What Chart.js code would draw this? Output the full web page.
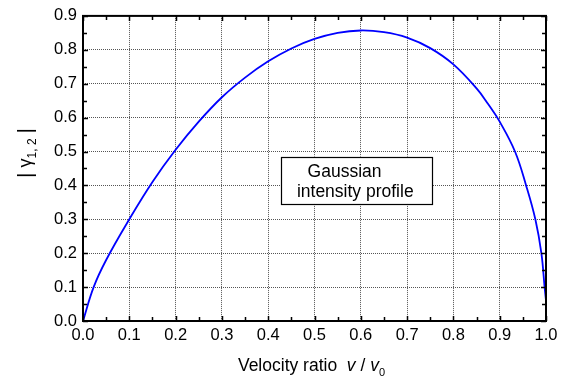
<!DOCTYPE html>
<html>
<head>
<meta charset="utf-8">
<script src="https://cdn.jsdelivr.net/npm/chart.js@4.4.1/dist/chart.umd.min.js"></script>
<style>
  html, body { margin: 0; padding: 0; background: #fff; }
  canvas { display: block; }
</style>
</head>
<body>
<canvas id="chart" width="570" height="383"></canvas>
<script>
// Curve: velocity ratio v/v0 -> |gamma_1,2|
const velocityRatio = [0, 0.023, 0.05, 0.1, 0.15, 0.2, 0.25, 0.3, 0.35, 0.4, 0.45, 0.5, 0.55, 0.6,
    0.65, 0.7, 0.75, 0.8, 0.85, 0.875, 0.9, 0.933, 0.957, 0.977, 0.99, 0.997, 1.0];
const coherence = [0, 0.1, 0.18, 0.30, 0.41, 0.505, 0.588, 0.66, 0.718, 0.766, 0.804, 0.832, 0.85, 0.857,
    0.852, 0.836, 0.805, 0.757, 0.686, 0.640, 0.588, 0.5, 0.4, 0.3, 0.2, 0.1, 0.06];

// Axis ticks
const xTicks = [0, 0.1, 0.2, 0.3, 0.4, 0.5, 0.6, 0.7, 0.8, 0.9, 1.0];
const yTicks = [0, 0.1, 0.2, 0.3, 0.4, 0.5, 0.6, 0.7, 0.8, 0.9];

// Label box text
const noteLines = ['Gaussian', 'intensity profile'];

const FONT = '"Liberation Sans", Arial, sans-serif';

// midpoints between major ticks
function minorOf(ticks) {
    const out = [];
    for (let i = 0; i < ticks.length - 1; i++) out.push((ticks[i] + ticks[i + 1]) / 2);
    return out;
}

// Frame with inward ticks on all four sides
const framePlugin = {
    id: 'frame',
    afterDraw(chart) {
        const { ctx, chartArea: a, scales: { x, y } } = chart;
        ctx.save();
        ctx.strokeStyle = '#000';
        ctx.lineWidth = 1.5;
        ctx.beginPath();
        const xs = xTicks.map(v => [v, 5]).concat(minorOf(xTicks).map(v => [v, 4]));
        xs.forEach(([v, len]) => {
            const px = Math.round(x.getPixelForValue(v)) + 0.5;
            ctx.moveTo(px, a.bottom); ctx.lineTo(px, a.bottom - len);
            ctx.moveTo(px, a.top); ctx.lineTo(px, a.top + len);
        });
        const ys = yTicks.map(v => [v, 5]).concat(minorOf(yTicks).map(v => [v, 4]));
        ys.forEach(([v, len]) => {
            const py = Math.round(y.getPixelForValue(v)) + 0.5;
            ctx.moveTo(a.left, py); ctx.lineTo(a.left + len, py);
            ctx.moveTo(a.right, py); ctx.lineTo(a.right - len, py);
        });
        ctx.stroke();
        ctx.lineWidth = 2;
        ctx.strokeRect(a.left, a.top, a.right - a.left, a.bottom - a.top);
        ctx.restore();
    }
};

// draws a list of [text, font, dy] pieces one after another
function drawPieces(ctx, pieces, startX, baseY) {
    let cx = startX;
    pieces.forEach(([txt, font, dy]) => {
        ctx.font = font;
        ctx.fillText(txt, cx, baseY + dy);
        cx += ctx.measureText(txt).width;
    });
}
function piecesWidth(ctx, pieces) {
    return pieces.reduce((w, [txt, font]) => { ctx.font = font; return w + ctx.measureText(txt).width; }, 0);
}

// Axis titles with italic / subscript parts
const titlePlugin = {
    id: 'titles',
    afterDraw(chart) {
        const { ctx, chartArea: a } = chart;
        ctx.save();
        ctx.fillStyle = '#000';
        ctx.textBaseline = 'alphabetic';
        ctx.textAlign = 'left';

        const xTitle = [
            ['Velocity ratio  ', '17.5px ' + FONT, 0],
            ['v', 'italic 17.5px ' + FONT, 0],
            [' / ', '17.5px ' + FONT, 0],
            ['v', 'italic 17.5px ' + FONT, 0],
            ['0', '11px ' + FONT, 5]
        ];
        const cx = (a.left + a.right) / 2 - 3;
        drawPieces(ctx, xTitle, cx - piecesWidth(ctx, xTitle) / 2, 371);

        const yTitle = [
            ['|', '21px ' + FONT, 1],
            [' \u03b3', '18px ' + FONT, 0],
            ['1, 2', '12px ' + FONT, 5],
            [' ', '17.5px ' + FONT, 0],
            ['|', '21px ' + FONT, 1]
        ];
        ctx.translate(31, 153);
        ctx.rotate(-Math.PI / 2);
        drawPieces(ctx, yTitle, -piecesWidth(ctx, yTitle) / 2, 0);
        ctx.restore();
    }
};

// Boxed note placed in data coordinates
const notePlugin = {
    id: 'note',
    afterDatasetsDraw(chart) {
        const { ctx, scales: { x, y } } = chart;
        const l = x.getPixelForValue(0.428), r = x.getPixelForValue(0.754);
        const t = y.getPixelForValue(0.485), b = y.getPixelForValue(0.346);
        ctx.save();
        ctx.fillStyle = '#fff';
        ctx.fillRect(l, t, r - l, b - t);
        ctx.strokeStyle = '#000';
        ctx.lineWidth = 1.2;
        ctx.strokeRect(Math.round(l) + 0.5, Math.round(t) + 0.5, Math.round(r - l), Math.round(b - t));
        ctx.fillStyle = '#000';
        ctx.font = '17.5px ' + FONT;
        ctx.textBaseline = 'alphabetic';
        ctx.fillText(noteLines[0], x.getPixelForValue(0.485), y.getPixelForValue(0.424));
        ctx.fillText(noteLines[1], x.getPixelForValue(0.462), y.getPixelForValue(0.366));
        ctx.restore();
    }
};

const points = velocityRatio.map((v, i) => ({ x: v, y: coherence[i] }));

const gridOpts = { color: '#555', lineWidth: 1, drawTicks: false };

new Chart(document.getElementById('chart'), {
    type: 'line',
    data: {
        datasets: [{
            data: points,
            borderColor: '#0000ff',
            borderWidth: 1.8,
            pointRadius: 0,
            fill: false,
            tension: 0.4
        }]
    },
    options: {
        responsive: false,
        animation: false,
        devicePixelRatio: 1,
        layout: { padding: { top: 11, right: 24, left: 0, bottom: 0 } },
        plugins: { legend: { display: false }, tooltip: { enabled: false } },
        scales: {
            x: {
                type: 'linear',
                min: 0, max: 1,
                afterBuildTicks: axis => { axis.ticks = xTicks.map(v => ({ value: v })); },
                afterFit: axis => { axis.height = 62; },
                grid: gridOpts,
                border: { display: false, dash: [1, 1] },
                ticks: {
                    color: '#000', padding: 5, maxRotation: 0,
                    font: { family: FONT, size: 16.5 },
                    callback: v => v.toFixed(1)
                }
            },
            y: {
                type: 'linear',
                min: 0, max: 0.9,
                afterBuildTicks: axis => { axis.ticks = yTicks.map(v => ({ value: v })); },
                afterFit: axis => { axis.width = 83; },
                grid: gridOpts,
                border: { display: false, dash: [1, 1] },
                ticks: {
                    color: '#000', padding: 6,
                    font: { family: FONT, size: 16.5 },
                    callback: v => v.toFixed(1)
                }
            }
        }
    },
    plugins: [notePlugin, framePlugin, titlePlugin]
});
</script>
</body>
</html>
